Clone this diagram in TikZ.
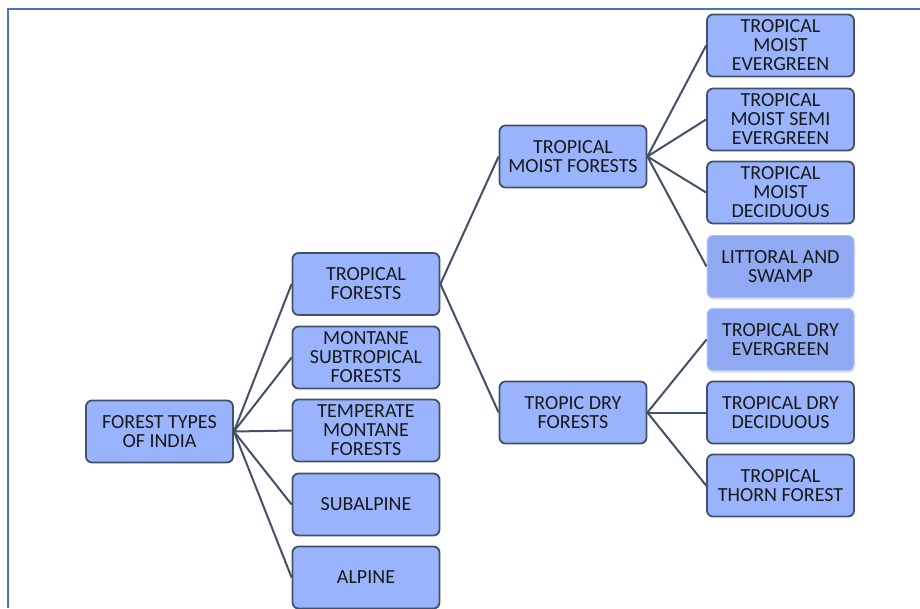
\documentclass[tikz,border=0pt]{standalone}
\usepackage{fontspec}
\setmainfont{Carlito}
\usetikzlibrary{shadows}

\definecolor{boxfill}{RGB}{153,180,252}
\definecolor{softfill}{RGB}{143,170,242}
\definecolor{boxline}{RGB}{66,80,104}
\definecolor{frameblue}{RGB}{68,114,196}

\tikzset{
  cat/.style={draw=boxline, line width=1.8pt, fill=boxfill, rounded corners=6pt,
    minimum width=147pt, minimum height=62pt, inner sep=0pt, align=center,
    text=black!90, font=\fontsize{20}{19}\selectfont},
  catsoft/.style={cat, draw=softfill!70!white, line width=1pt, fill=softfill,
    drop shadow={shadow xshift=0.5pt, shadow yshift=-2pt, opacity=0.25}},
  link/.style={draw=boxline, line width=2pt}
}

\begin{document}
\begin{tikzpicture}[x=1pt,y=-1pt]
\useasboundingbox (0,0) rectangle (920,608);
\draw[frameblue, line width=2.2pt] (8,608) -- (8,9) -- (922,9);

\path (159.5,431.5) node[cat] (root) {FOREST TYPES\\OF INDIA};

\path (366,284) node[cat] (trop) {TROPICAL\\FORESTS};
\path (366,357.5) node[cat] (mst) {MONTANE\\SUBTROPICAL\\FORESTS};
\path (366,430.5) node[cat] (tmf) {TEMPERATE\\MONTANE\\FORESTS};
\path (366,504.5) node[cat] (subalp) {SUBALPINE};
\path (366,577.5) node[cat] (alp) {ALPINE};

\path (573,156.5) node[cat] (moist) {TROPICAL\\MOIST FORESTS};
\path (573,412.5) node[cat] (dry) {TROPIC DRY\\FORESTS};

\path (780.5,45.5) node[cat] (meg) {TROPICAL\\MOIST\\EVERGREEN};
\path (780.5,119.5) node[cat] (msemi) {TROPICAL\\MOIST SEMI\\EVERGREEN};
\path (780.5,192.5) node[cat] (mdec) {TROPICAL\\MOIST\\DECIDUOUS};
\path (780.5,266.5) node[catsoft] (swamp) {LITTORAL AND\\SWAMP};
\path (780.5,339.5) node[catsoft] (deg) {TROPICAL DRY\\EVERGREEN};
\path (780.5,412.5) node[cat] (ddec) {TROPICAL DRY\\DECIDUOUS};
\path (780.5,485.5) node[cat] (thorn) {TROPICAL\\THORN FOREST};

% root to main groups
\foreach \c in {trop,mst,tmf,subalp,alp}
  \draw[link] (root.east) -- (\c.west);
% tropical split
\draw[link] (trop.east) -- (moist.west);
\draw[link] (trop.east) -- (dry.west);
\foreach \c in {meg,msemi,mdec,swamp}
  \draw[link] (moist.east) -- (\c.west);
\foreach \c in {deg,ddec,thorn}
  \draw[link] (dry.east) -- (\c.west);
\end{tikzpicture}
\end{document}
